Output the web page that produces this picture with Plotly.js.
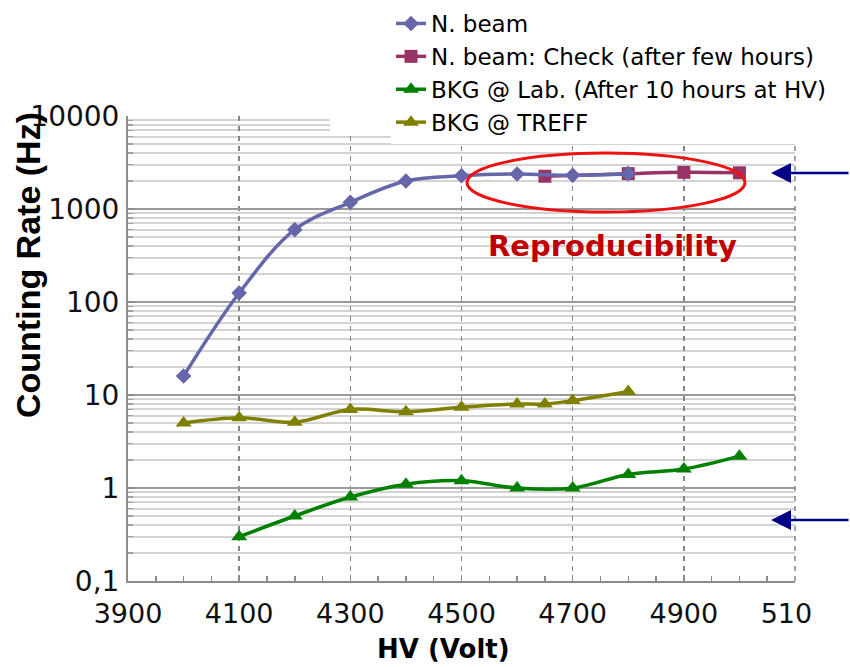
<!DOCTYPE html>
<html>
<head>
<meta charset="utf-8">
<script src="https://cdn.plot.ly/plotly-3.0.1.min.js"></script>
<style>
  html, body { margin: 0; padding: 0; background: #ffffff; }
  #chart { width: 850px; height: 667px; }
</style>
</head>
<body>
<div id="chart"></div>
<script>
// ---- data ----
const hvBeam    = [4000, 4100, 4200, 4300, 4400, 4500, 4600, 4700, 4800];
const rateBeam  = [16, 125, 600, 1180, 2000, 2280, 2380, 2300, 2400];

const hvCheck   = [4650, 4800, 4900, 5000];
const rateCheck = [2250, 2400, 2480, 2450];

const hvLab     = [4100, 4200, 4300, 4400, 4500, 4600, 4700, 4800, 4900, 5000];
const rateLab   = [0.3, 0.5, 0.8, 1.1, 1.2, 1.0, 1.0, 1.4, 1.6, 2.2];

const hvTreff   = [4000, 4100, 4200, 4300, 4400, 4500, 4600, 4650, 4700, 4800];
const rateTreff = [5.0, 5.7, 5.1, 7.0, 6.6, 7.4, 8.0, 8.0, 8.7, 10.9];

const seriesNames = [
  'N. beam',
  'N. beam: Check (after few hours)',
  'BKG @ Lab. (After 10 hours at HV)',
  'BKG @ TREFF'
];

const yTickVals = [0.1, 1, 10, 100, 1000, 10000];
const yTickText = ['0,1', '1', '10', '100', '1000', '10000'];

// ---- traces ----
const common = { mode: 'lines+markers', type: 'scatter', line: { shape: 'spline', smoothing: 1, width: 3.5 } };

const traces = [
  Object.assign({}, common, {
    x: hvCheck, y: rateCheck, name: seriesNames[1], legendrank: 2,
    line: Object.assign({}, common.line, { color: '#993366' }),
    marker: { symbol: 'square', size: 13, color: '#993366' }
  }),
  Object.assign({}, common, {
    x: hvBeam, y: rateBeam, name: seriesNames[0], legendrank: 1,
    line: Object.assign({}, common.line, { color: '#6666AA' }),
    marker: { symbol: 'diamond', size: 12, color: '#6666AA' }
  }),
  Object.assign({}, common, {
    x: hvLab, y: rateLab, name: seriesNames[2], legendrank: 3,
    line: Object.assign({}, common.line, { color: '#008000' }),
    marker: { symbol: 'triangle-up', size: 14, color: '#008000' }
  }),
  Object.assign({}, common, {
    x: hvTreff, y: rateTreff, name: seriesNames[3], legendrank: 4,
    line: Object.assign({}, common.line, { color: '#808000' }),
    marker: { symbol: 'triangle-up', size: 14, color: '#808000' }
  })
];

// plot area in px: x 128..795, y 116..581
const L = 128, R = 795, T = 116, B = 581;
const px = v => (v - L) / (R - L);
const py = v => (B - v) / (B - T);

const layout = {
  width: 850, height: 667,
  margin: { l: L, r: 850 - R, t: T, b: 667 - B, autoexpand: false },
  paper_bgcolor: '#ffffff',
  plot_bgcolor: '#ffffff',
  font: { family: 'Liberation Sans, Arial, sans-serif', color: '#000000' },
  showlegend: true,
  legend: {
    x: px(391), y: py(2), xanchor: 'left', yanchor: 'top',
    bgcolor: '#ffffff', borderwidth: 0,
    font: { family: 'DejaVu Sans, sans-serif', size: 23, color: '#000000' },
    itemwidth: 30, tracegroupgap: 0
  },
  xaxis: {
    type: 'linear', range: [3900, 5100],
    tickmode: 'linear', tick0: 3900, dtick: 200,
    showgrid: true, gridcolor: '#858585', gridwidth: 1.5, griddash: '5px,5px',
    showline: true, linecolor: '#8c8c8c', linewidth: 2,
    ticks: 'inside', ticklen: 6, tickcolor: '#8c8c8c', tickwidth: 1.5,
    minor: { dtick: 50, ticks: 'inside', ticklen: 5, tickcolor: '#8c8c8c', tickwidth: 1.5, showgrid: false },
    zeroline: false,
    tickfont: { family: 'DejaVu Sans, sans-serif', size: 27, color: '#111111' },
    ticklabelstandoff: 8
  },
  yaxis: {
    type: 'log', range: [-1, 4],
    tickmode: 'array', tickvals: yTickVals, ticktext: yTickText,
    showgrid: true, gridcolor: '#9a9a9a', gridwidth: 2,
    showline: true, linecolor: '#8c8c8c', linewidth: 2,
    ticks: 'inside', ticklen: 6, tickcolor: '#8c8c8c', tickwidth: 1.5,
    minor: { dtick: 'D1', showgrid: true, gridcolor: '#d4d4d4', gridwidth: 2,
             ticks: 'inside', ticklen: 5, tickcolor: '#a0a0a0', tickwidth: 1.5 },
    zeroline: false,
    tickfont: { family: 'DejaVu Sans, sans-serif', size: 28, color: '#111111' },
    ticklabelstandoff: 1
  },
  shapes: [
    // dashed right border (gridline at 5100)
    { type: 'line', xref: 'paper', yref: 'paper', x0: 1, x1: 1, y0: 0, y1: 1,
      line: { color: '#858585', width: 1.5, dash: '5px,5px' }, layer: 'above' },
    // white area behind the legend covering the top of the grid
    { type: 'rect', xref: 'paper', yref: 'paper', x0: px(330), x1: 1.1, y0: py(134), y1: 1.3,
      fillcolor: '#ffffff', line: { width: 0 }, layer: 'above' },
    // cropped right edge of the picture (last tick label cut)
    { type: 'rect', xref: 'paper', yref: 'paper', x0: px(811), x1: 1.1, y0: py(630), y1: py(592),
      fillcolor: '#ffffff', line: { width: 0 }, layer: 'above' },
    // red ellipse
    { type: 'circle', xref: 'paper', yref: 'paper', x0: px(467), x1: px(745), y0: py(212), y1: py(153),
      line: { color: '#ee1111', width: 3 }, fillcolor: 'rgba(0,0,0,0)', layer: 'above' }
  ],
  annotations: [
    { text: 'Reproducibility', xref: 'paper', yref: 'paper', x: px(612), y: py(246),
      showarrow: false, xanchor: 'center', yanchor: 'middle',
      font: { family: 'DejaVu Sans, sans-serif', size: 29, color: '#C00000', weight: 'bold' } },
    { text: 'Counting Rate (Hz)', xref: 'paper', yref: 'paper', x: px(28), y: py(265),
      showarrow: false, textangle: -90, xanchor: 'center', yanchor: 'middle',
      font: { family: 'Liberation Sans, Arial, sans-serif', size: 34, color: '#000000', weight: 'bold' } },
    { text: 'HV (Volt)', xref: 'paper', yref: 'paper', x: px(443.5), y: py(649),
      showarrow: false, xanchor: 'center', yanchor: 'middle',
      font: { family: 'DejaVu Sans, sans-serif', size: 26, color: '#000000', weight: 'bold' } },
    { text: '', xref: 'paper', yref: 'paper', x: px(771), y: py(173),
      showarrow: true, ax: 80, ay: 0, arrowhead: 2, arrowsize: 1.6, arrowwidth: 2.5, arrowcolor: '#000088', standoff: 0 },
    { text: '', xref: 'paper', yref: 'paper', x: px(771), y: py(520),
      showarrow: true, ax: 80, ay: 0, arrowhead: 2, arrowsize: 1.6, arrowwidth: 2.5, arrowcolor: '#000088', standoff: 0 }
  ]
};

Plotly.newPlot('chart', traces, layout, { displayModeBar: false, staticPlot: true });
</script>
</body>
</html>
